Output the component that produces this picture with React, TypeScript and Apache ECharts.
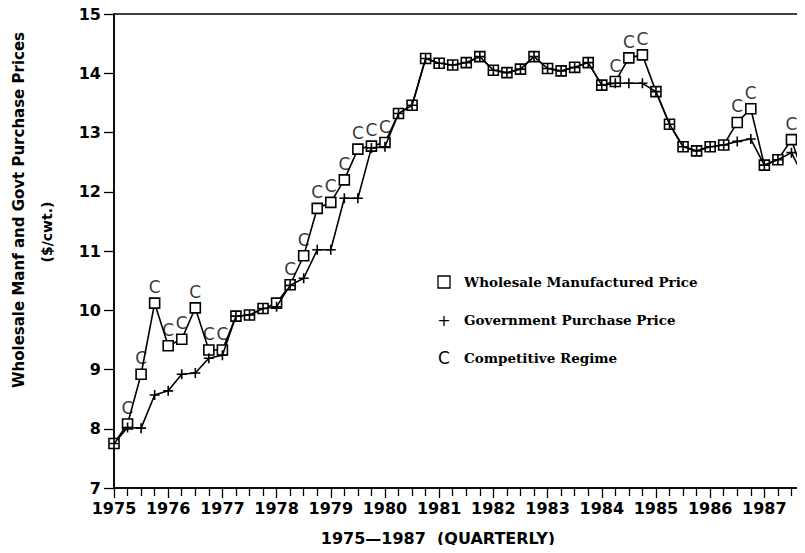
import React, { useEffect, useRef } from "react";
import * as echarts from "echarts";

// Quarterly observations, 1975 Q1 .. 1987 Q4
const startYear = 1975;
const quarterStep = 0.25;
const yearTicks = [1975, 1976, 1977, 1978, 1979, 1980, 1981, 1982, 1983, 1984, 1985, 1986, 1987];

const wholesalePrice = [
  7.75, 8.08, 8.92, 10.12, 9.4, 9.51, 10.04, 9.33, 9.33, 9.9, 9.92, 10.03, 10.12,
  10.43, 10.92, 11.72, 11.82, 12.2, 12.72, 12.77, 12.83, 13.32, 13.46, 14.25, 14.17, 14.14,
  14.18, 14.28, 14.05, 14.01, 14.07, 14.28, 14.08, 14.04, 14.1, 14.18, 13.8, 13.86, 14.26,
  14.31, 13.69, 13.14, 12.76, 12.69, 12.76, 12.79, 13.17, 13.4, 12.45, 12.54, 12.88, 12.2,
];

const governmentPrice = [
  7.75, 8.02, 8.01, 8.57, 8.64, 8.92, 8.94, 9.19, 9.24, 9.9, 9.92, 10.03, 10.06,
  10.42, 10.54, 11.02, 11.02, 11.89, 11.89, 12.74, 12.76, 13.32, 13.46, 14.25, 14.17, 14.14,
  14.18, 14.28, 14.05, 14.01, 14.07, 14.28, 14.08, 14.04, 14.1, 14.18, 13.8, 13.83, 13.83,
  13.83, 13.69, 13.14, 12.76, 12.69, 12.76, 12.79, 12.85, 12.89, 12.45, 12.54, 12.66, 12.2,
];

// 1 = competitive regime quarter (marked "C")
const competitive = [
  0, 1, 1, 1, 1, 1, 1, 1, 1, 0, 0, 0, 0,
  1, 1, 1, 1, 1, 1, 1, 1, 0, 0, 0, 0, 0,
  0, 0, 0, 0, 0, 0, 0, 0, 0, 0, 0, 1, 1,
  1, 0, 0, 0, 0, 0, 0, 1, 1, 0, 0, 1, 0,
];

const yTicks = [7, 8, 9, 10, 11, 12, 13, 14, 15];

const legendItems = ["Wholesale Manufactured Price", "Government Purchase Price", "Competitive Regime"];
const yTitle = "Wholesale Manf and Govt Purchase Prices";
const yUnit = "($/cwt.)";
const xTitle = "1975\u20141987  (QUARTERLY)";

const SANS = "DejaVu Sans";
const SERIF = "DejaVu Serif";

export default function App() {
  const ref = useRef<HTMLDivElement>(null);

  useEffect(() => {
    if (!ref.current) return;
    const chart = echarts.init(ref.current, null, { renderer: "svg" });

    const t = (i: number) => startYear + i * quarterStep;
    const wData = wholesalePrice.map((v, i) => [t(i), v]);
    const gData = governmentPrice.map((v, i) => [t(i), v]);
    const cData = competitive
      .map((f, i) => (f ? [t(i), wholesalePrice[i]] : null))
      .filter((d) => d !== null);

    const plusPath = "path://M0,5L10,5M5,0L5,10";

    chart.setOption({
      animation: false,
      backgroundColor: "#fff",
      grid: {
        left: 114,
        right: 0,
        top: 14,
        bottom: 65,
        show: true,
        borderColor: "#000",
        borderWidth: 1.5,
        backgroundColor: "transparent",
      },
      xAxis: {
        type: "value",
        min: startYear,
        max: startYear + (wholesalePrice.length - 1) * quarterStep,
        interval: 1,
        axisLine: { show: true, onZero: false, lineStyle: { color: "#000", width: 1.6 } },
        axisTick: { show: true, inside: false, length: 10, lineStyle: { color: "#000", width: 1.3 } },
        minorTick: { show: true, splitNumber: 4, length: 8, lineStyle: { color: "#000", width: 1.3 } },
        splitLine: { show: false },
        axisLabel: {
          margin: 12,
          color: "#000",
          fontFamily: SANS,
          fontWeight: "bold",
          fontSize: 16,
          showMaxLabel: false,
          formatter: (v: number) => (yearTicks.includes(v) ? String(v) : ""),
        },
      },
      yAxis: {
        type: "value",
        min: yTicks[0],
        max: yTicks[yTicks.length - 1],
        interval: 1,
        axisLine: { show: true, lineStyle: { color: "#000", width: 1.6 } },
        axisTick: { show: true, length: 10, lineStyle: { color: "#000", width: 1.3 } },
        splitLine: { show: false },
        axisLabel: {
          margin: 13,
          color: "#000",
          fontFamily: SANS,
          fontWeight: "bold",
          fontSize: 16,
        },
      },
      series: [
        {
          name: legendItems[0],
          type: "line",
          data: wData,
          z: 2,
          symbol: "rect",
          symbolSize: 10,
          lineStyle: { color: "#000", width: 1.6 },
          itemStyle: { color: "#fff", borderColor: "#000", borderWidth: 1.6 },
        },
        {
          name: legendItems[1],
          type: "line",
          data: gData,
          z: 3,
          symbol: plusPath,
          symbolSize: 10,
          lineStyle: { color: "#000", width: 1.6 },
          itemStyle: { color: "#000", borderColor: "#000", borderWidth: 1.6 },
        },
        {
          name: legendItems[2],
          type: "scatter",
          data: cData,
          z: 4,
          symbolSize: 1,
          itemStyle: { color: "rgba(0,0,0,0)" },
          label: {
            show: true,
            position: "top",
            distance: 7,
            formatter: "C",
            color: "#000",
            fontFamily: SANS,
            fontSize: 17,
          },
        },
      ],
      graphic: [
        {
          type: "text",
          x: 19,
          y: 210,
          rotation: Math.PI / 2,
          style: {
            text: yTitle,
            fill: "#000",
            fontFamily: SANS,
            fontWeight: "bold",
            fontSize: 15,
            align: "center",
            verticalAlign: "middle",
          },
        },
        {
          type: "text",
          x: 47,
          y: 232,
          rotation: Math.PI / 2,
          style: {
            text: yUnit,
            fill: "#000",
            fontFamily: SANS,
            fontWeight: "bold",
            fontSize: 14,
            align: "center",
            verticalAlign: "middle",
          },
        },
        {
          type: "text",
          x: 438,
          y: 538,
          style: {
            text: xTitle,
            fill: "#000",
            fontFamily: SANS,
            fontWeight: "bold",
            fontSize: 16,
            align: "center",
            verticalAlign: "middle",
          },
        },
        {
          type: "rect",
          shape: { x: 438, y: 276, width: 12, height: 12 },
          style: { fill: "none", stroke: "#000", lineWidth: 1.3 },
        },
        {
          type: "text",
          x: 444,
          y: 320,
          style: { text: "+", fill: "#000", fontFamily: SANS, fontSize: 16, align: "center", verticalAlign: "middle" },
        },
        {
          type: "text",
          x: 444,
          y: 358,
          style: { text: "C", fill: "#000", fontFamily: SANS, fontSize: 17, align: "center", verticalAlign: "middle" },
        },
        ...legendItems.map((name, k) => ({
          type: "text",
          x: 464,
          y: 282 + k * 38,
          style: {
            text: name,
            fill: "#000",
            fontFamily: SERIF,
            fontWeight: "bold",
            fontSize: 13.5,
            align: "left",
            verticalAlign: "middle",
          },
        })),
      ],
    });

    return () => chart.dispose();
  }, []);

  return <div ref={ref} style={{ width: 805, height: 553, margin: -8 }} />;
}
